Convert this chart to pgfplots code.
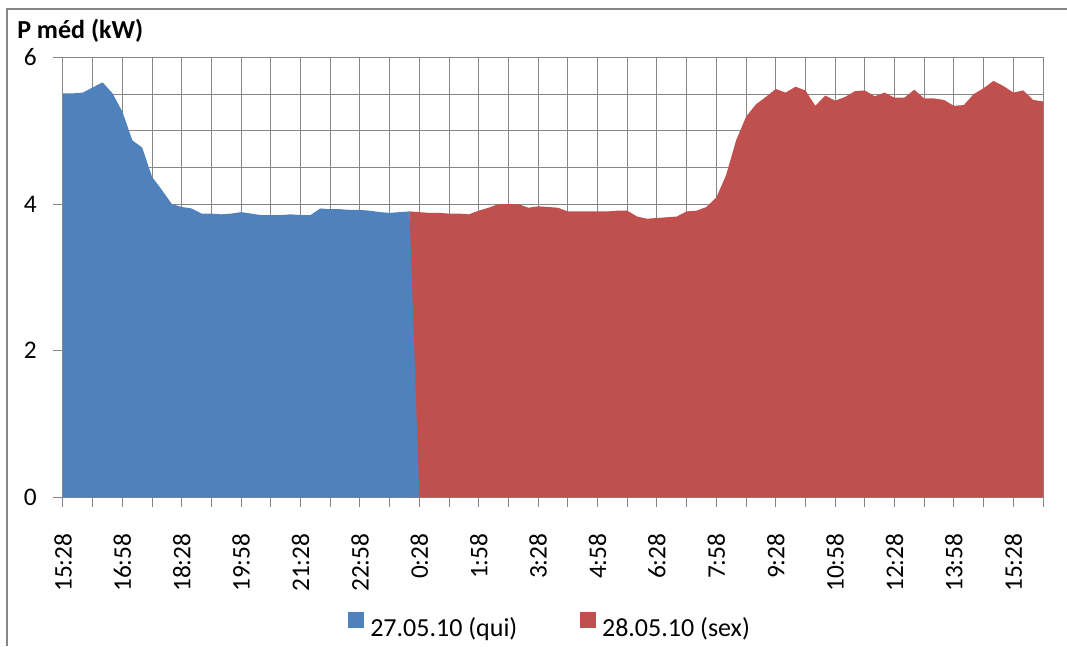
\documentclass[border=0pt]{standalone}
\usepackage{pgfplots}
\pgfplotsset{compat=1.18}
\usepackage{fontspec}
\setmainfont{Carlito}
\definecolor{ablue}{RGB}{79,129,189}
\definecolor{ared}{RGB}{192,80,77}
\definecolor{lgray}{RGB}{134,134,134}
\begin{document}
\begin{tikzpicture}[x=0.75pt,y=0.75pt]
\path[use as bounding box] (0,0) rectangle (1067,646);
\draw[lgray, line width=0.9pt] (7,0) -- (7,637) -- (1067,637);
\node[anchor=base west, font=\bfseries\fontsize{19.5}{22}\selectfont, inner sep=0pt] at (17,607) {P méd (kW)};
\begin{axis}[
  at={(47.25pt,111.45pt)}, anchor=south west,
  scale only axis, width=735pt, height=330pt,
  xmin=0, xmax=99, ymin=0, ymax=6,
  xtick={0,3,...,99},
  xticklabels={15:28,,16:58,,18:28,,19:58,,21:28,,22:58,,0:28,,1:58,,3:28,,4:58,,6:28,,7:58,,9:28,,10:58,,12:28,,13:58,,15:28,},
  ytick={0,2,4,6},
  minor ytick={0.5,1,1.5,2.5,3,3.5,4.5,5,5.5},
  tick pos=left,
  tick align=outside,
  major tick length=7.5pt,
  minor tick length=0pt,
  tick style={lgray, line width=0.75pt},
  axis line style={lgray, line width=0.75pt},
  grid=major, yminorgrids=true,
  major grid style={lgray, line width=0.75pt},
  minor grid style={lgray, line width=0.75pt},
  xticklabel style={rotate=90, anchor=east, inner sep=0pt, font=\fontsize{19}{21}\selectfont},
  yticklabel style={inner sep=0pt, font=\fontsize{19}{21}\selectfont},
  xticklabel shift=19.5pt,
  yticklabel shift=12pt,
  /pgf/number format/assume math mode=true,
  legend columns=2,
  legend style={at={(0.496,-0.29)}, anchor=center, draw=none, fill=none,
    font=\fontsize{19.5}{22}\selectfont,
    nodes={inner sep=0pt},
    /tikz/every odd column/.append style={column sep=4.5pt},
    /tikz/every even column/.append style={column sep=47pt}},
  legend image code/.code={\fill[#1] (0pt,0pt) rectangle (12pt,12pt);},
]
\addlegendimage{fill=ablue, draw=none}
\addlegendentry{27.05.10 (qui)}
\addlegendimage{fill=ared, draw=none}
\addlegendentry{28.05.10 (sex)}
\addplot[fill=ared, draw=none, forget plot] coordinates {
(35,3.90) (36,3.89) (37,3.88) (38,3.88) (39,3.87) (40,3.87) (41,3.86) (42,3.91)
(43,3.95) (44,4.00) (45,4.00) (46,4.00) (47,3.95) (48,3.97) (49,3.96) (50,3.95)
(51,3.90) (52,3.90) (53,3.90) (54,3.90) (55,3.90) (56,3.91) (57,3.91) (58,3.83)
(59,3.80) (60,3.81) (61,3.82) (62,3.83) (63,3.90) (64,3.91) (65,3.96) (66,4.09)
(67,4.40) (68,4.87) (69,5.19) (70,5.36) (71,5.46) (72,5.57) (73,5.52) (74,5.60)
(75,5.55) (76,5.34) (77,5.48) (78,5.41) (79,5.46) (80,5.54) (81,5.55) (82,5.47)
(83,5.52) (84,5.45) (85,5.45) (86,5.56) (87,5.44) (88,5.44) (89,5.42) (90,5.34)
(91,5.35) (92,5.50) (93,5.58) (94,5.68) (95,5.61) (96,5.52) (97,5.55) (98,5.42)
(99,5.40)
} \closedcycle;
\addplot[fill=ablue, draw=none, forget plot] coordinates {
(0,5.51) (1,5.51) (2,5.52) (3,5.59) (4,5.66) (5,5.51) (6,5.26) (7,4.87)
(8,4.77) (9,4.37) (10,4.19) (11,4.00) (12,3.96) (13,3.94) (14,3.87) (15,3.87)
(16,3.86) (17,3.87) (18,3.89) (19,3.87) (20,3.85) (21,3.85) (22,3.85) (23,3.86)
(24,3.85) (25,3.85) (26,3.94) (27,3.93) (28,3.93) (29,3.92) (30,3.92) (31,3.91)
(32,3.89) (33,3.88) (34,3.89) (35,3.90) (36,0)
} \closedcycle;
\end{axis}
\end{tikzpicture}
\end{document}
